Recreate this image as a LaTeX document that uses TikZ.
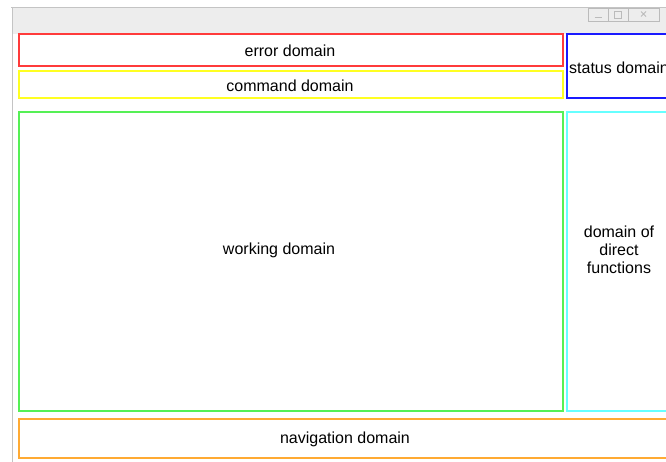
\documentclass[tikz,border=0pt]{standalone}
\usepackage{fontspec}
\setmainfont{Liberation Sans}
\definecolor{cred}{HTML}{FF3B3B}
\definecolor{cyellow}{HTML}{FFFF22}
\definecolor{cblue}{HTML}{1A1AFF}
\definecolor{cgreen}{HTML}{55F055}
\definecolor{ccyan}{HTML}{66FFFF}
\definecolor{corange}{HTML}{FFAA33}
\definecolor{framegray}{HTML}{C4C4C4}
\definecolor{titlegray}{HTML}{EDEDED}
\definecolor{btngray}{HTML}{BBBBBB}
\tikzset{
  domainbox/.style={draw=#1, line width=2pt, inner sep=0pt, outer sep=0pt},
  domaintext/.style={font=\fontsize{16}{18}\selectfont, align=center, inner sep=0pt, text=black},
}
\begin{document}
\begin{tikzpicture}[x=1pt,y=-1pt]
\useasboundingbox (0,0) rectangle (666,462);
\clip (0,0) rectangle (666,462);
\fill[white] (0,0) rectangle (666,462);
% window frame
\fill[titlegray] (12,7.5) rectangle (668,34);
\draw[framegray, line width=1pt] (11,7.5) -- (668,7.5);
\draw[framegray, line width=1.5pt] (12.5,7.5) -- (12.5,463);
% title buttons
\draw[btngray, line width=0.8pt] (588,8) rectangle (608,21);
\draw[btngray, line width=0.8pt] (608,8) rectangle (628,21);
\draw[btngray, line width=0.8pt] (628,8) rectangle (659,21);
\draw[btngray, line width=1pt] (594.5,17.5) -- (601.5,17.5);
\draw[btngray, line width=0.8pt] (614.5,11) rectangle (621.5,18);
\draw[btngray, line width=1.2pt] (614.5,11.5) -- (621.5,11.5);
\draw[btngray, line width=0.9pt] (641,11.5) -- (646,16.5) (641,16.5) -- (646,11.5);
% domain boxes
\node[domainbox=cred, minimum width=543.5pt, minimum height=32pt] (err) at (290.75,50.5) {};
\node[domainbox=cyellow, minimum width=543.5pt, minimum height=27.5pt] (cmd) at (290.75,84.75) {};
\node[domainbox=cblue, minimum width=104pt, minimum height=64pt] (stat) at (619,66.5) {};
\node[domainbox=cgreen, minimum width=543.5pt, minimum height=298.5pt] (work) at (290.75,261.25) {};
\node[domainbox=ccyan, minimum width=104pt, minimum height=298.5pt] (direct) at (619,261.25) {};
\node[domainbox=corange, minimum width=653.5pt, minimum height=39pt] (nav) at (345.25,438) {};
% labels
\node[domaintext] (errt) at (290,51) {error domain};
\node[domaintext] (cmdt) at (290,85.5) {command domain};
\node[domaintext] (statt) at (619,67.5) {status domain};
\node[domaintext] (workt) at (279,250) {working domain};
\node[domaintext] (directt) at (619,250) {domain of\\direct\\functions};
\node[domaintext] (navt) at (345,439) {navigation domain};
\end{tikzpicture}
\end{document}
